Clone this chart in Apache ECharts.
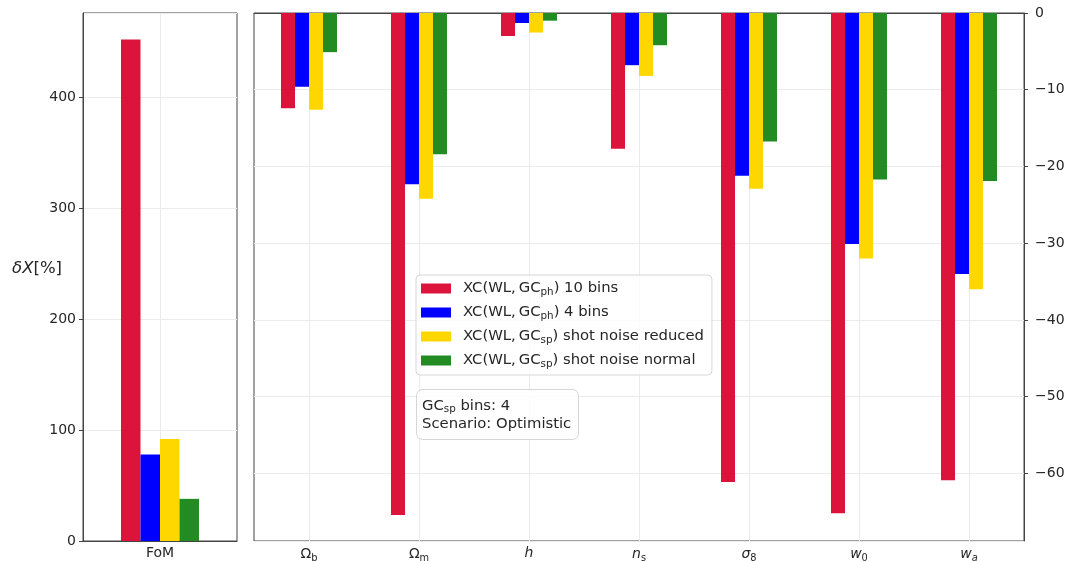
<!DOCTYPE html>
<html><head><meta charset="utf-8">
<script src="https://cdn.jsdelivr.net/npm/echarts@6/dist/echarts.min.js"></script>
<style>html,body{margin:0;padding:0;background:#fff}#c{width:1067px;height:561px}</style>
</head><body><div id="c"></div>
<script>
const seriesNames = ['xc10', 'xc4', 'spReduced', 'spNormal'];
const legendLabels = [
  '{n|XC(WL,\u2009GC}{s|ph}{n|) 10 bins}',
  '{n|XC(WL,\u2009GC}{s|ph}{n|) 4 bins}',
  '{n|XC(WL,\u2009GC}{s|sp}{n|) shot noise reduced}',
  '{n|XC(WL,\u2009GC}{s|sp}{n|) shot noise normal}'
];
const colors = ['#DC143C', '#0000FF', '#FFD700', '#228B22'];
const fomCategory = ['FoM'];
const fomValues = [452, 78, 92, 38];
const params = ['Ωb', 'Ωm', 'h', 'ns', 'σ8', 'w0', 'wa'];
const paramLabels = ['{n|Ω}{s|b}', '{n|Ω}{s|m}', '{i|h}', '{i|n}{s|s}', '{i|σ}{s|8}', '{i|w}{s|0}', '{i|w}{si|a}'];
const xc10 = [-12.4, -65.4, -3.0, -17.7, -61.1, -65.2, -60.9];
const xc4 = [-9.6, -22.3, -1.3, -6.8, -21.2, -30.1, -34.0];
const spReduced = [-12.6, -24.2, -2.55, -8.2, -22.9, -32.0, -36.0];
const spNormal = [-5.1, -18.4, -1.0, -4.2, -16.75, -21.7, -21.9];
const paramSeries = [xc10, xc4, spReduced, spNormal];

const FONT = 'DejaVu Sans';
const TXT = '#262626';
const FS = 14;
const LFS = 14.8;
const axisLineColor = '#444';
const gridColor = '#ebebeb';
const minusFmt = v => String(v).replace('-', '\u2212');

const chart = echarts.init(document.getElementById('c'), null, {renderer: 'canvas'});
const series = [];
seriesNames.forEach((nm, k) => {
  series.push({
    name: nm, type: 'bar', xAxisIndex: 0, yAxisIndex: 0,
    data: [fomValues[k]], barWidth: 19.5, barGap: '0%',
    itemStyle: {color: colors[k]}, animation: false
  });
});
seriesNames.forEach((nm, k) => {
  series.push({
    name: nm, type: 'bar', xAxisIndex: 1, yAxisIndex: 1,
    data: paramSeries[k], barWidth: 14, barGap: '0%',
    itemStyle: {color: colors[k]}, animation: false
  });
});

const mkRich = fs => ({
  n: {fontSize: fs, fontFamily: FONT, color: TXT},
  i: {fontSize: fs, fontFamily: FONT, fontStyle: 'italic', color: TXT},
  s: {fontSize: fs * 0.7, fontFamily: FONT, color: TXT, padding: [7, 0, 0, 0]},
  si: {fontSize: fs * 0.7, fontFamily: FONT, fontStyle: 'italic', color: TXT, padding: [7, 0, 0, 0]}
});

const option = {
  animation: false,
  textStyle: {fontFamily: FONT},
  grid: [
    {left: 83, top: 13, width: 154, height: 528, show: true, borderColor: axisLineColor, borderWidth: 1, backgroundColor: 'transparent', outerBoundsMode: 'none', containLabel: false},
    {left: 254, top: 13, width: 770, height: 528, show: true, borderColor: axisLineColor, borderWidth: 1, backgroundColor: 'transparent', outerBoundsMode: 'none', containLabel: false}
  ],
  xAxis: [
    {type: 'category', gridIndex: 0, data: fomCategory,
     axisLine: {lineStyle: {color: axisLineColor}},
     axisTick: {alignWithLabel: true, length: 4, lineStyle: {color: axisLineColor}},
     axisLabel: {color: TXT, fontSize: FS, fontFamily: FONT, margin: 5},
     splitLine: {show: true, alignWithLabel: true, lineStyle: {color: gridColor}}},
    {type: 'category', gridIndex: 1, data: params,
     axisLine: {lineStyle: {color: axisLineColor}},
     axisTick: {alignWithLabel: true, length: 4, lineStyle: {color: axisLineColor}},
     axisLabel: {margin: 5, formatter: (v, i) => paramLabels[i], rich: mkRich(FS)},
     splitLine: {show: true, alignWithLabel: true, lineStyle: {color: gridColor}}}
  ],
  yAxis: [
    {type: 'value', gridIndex: 0, min: 0, max: 476, splitNumber: 5,
     name: '{i|δX}{n|[%]}', nameLocation: 'middle', nameRotate: 0, nameGap: 21, nameMoveOverlap: false,
     nameTextStyle: {verticalAlign: 'bottom', rich: {i: {fontSize: 16.5, fontStyle: 'italic', fontFamily: FONT, color: TXT}, n: {fontSize: 16.5, fontFamily: FONT, color: TXT}}},
     axisLine: {show: true, lineStyle: {color: axisLineColor}},
     axisTick: {show: true, length: 4, lineStyle: {color: axisLineColor}},
     axisLabel: {color: TXT, fontSize: FS, fontFamily: FONT, margin: 7, showMaxLabel: false},
     splitLine: {show: true, lineStyle: {color: gridColor}}},
    {type: 'value', gridIndex: 1, min: -68.8, max: 0, splitNumber: 7, position: 'right',
     axisLine: {show: true, lineStyle: {color: axisLineColor}},
     axisTick: {show: true, length: 4, lineStyle: {color: axisLineColor}},
     axisLabel: {color: TXT, fontSize: FS, fontFamily: FONT, margin: 11, showMinLabel: false, formatter: minusFmt},
     splitLine: {show: true, lineStyle: {color: gridColor}}}
  ],
  legend: {
    data: seriesNames, orient: 'vertical', left: 416, top: 275,
    itemWidth: 30, itemHeight: 10, itemGap: 8,
    padding: [6, 8, 6, 5],
    borderColor: '#d6d6d6', borderWidth: 1, borderRadius: 4, backgroundColor: 'rgba(255,255,255,0.8)',
    icon: 'rect',
    formatter: name => legendLabels[seriesNames.indexOf(name)],
    textStyle: {rich: mkRich(LFS), padding: [0, 0, 0, 7]}
  },
  title: {
    text: '{n|GC}{s|sp}{n| bins: 4}\n{n|Scenario: Optimistic}',
    left: 416, top: 389,
    padding: [8, 8, 7, 6],
    borderColor: '#d6d6d6', borderWidth: 1, borderRadius: 6, backgroundColor: 'rgba(255,255,255,0.8)',
    textStyle: {fontWeight: 'normal', rich: Object.assign({}, mkRich(LFS), {n: {fontSize: LFS, fontFamily: FONT, color: TXT, lineHeight: 18}}), lineHeight: 18}
  },
  series: series
};
chart.setOption(option);
</script></body></html>
